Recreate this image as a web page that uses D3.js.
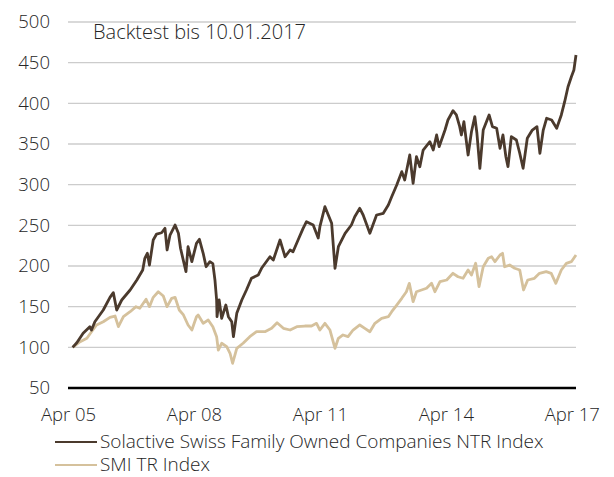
<!DOCTYPE html>
<html>
<head>
<meta charset="utf-8">
<script src="https://cdnjs.cloudflare.com/ajax/libs/d3/7.8.5/d3.min.js"></script>
<style>
    body { margin: 0; background: #fff; }
    #chart { width: 614px; height: 477px; }
    text { font-family: "Open Sans", sans-serif; font-weight: 300; fill: #262626; }
</style>
</head>
<body>
<div id="chart"></div>
<script>
// decimal years, with index values
let solTimes = [2005.36, 2005.46, 2005.61, 2005.77, 2005.81, 2005.89, 2006.09, 2006.25, 2006.33, 2006.41,
    2006.53, 2006.73, 2006.89, 2007.03, 2007.08, 2007.14, 2007.19, 2007.28, 2007.36, 2007.48,
    2007.56, 2007.61, 2007.68, 2007.80, 2007.88, 2007.93, 2008.06, 2008.11, 2008.20, 2008.31,
    2008.38, 2008.47, 2008.54, 2008.63, 2008.70, 2008.75, 2008.79, 2008.80, 2008.85, 2008.91,
    2009.01, 2009.07, 2009.15, 2009.19, 2009.27, 2009.39, 2009.50, 2009.62, 2009.78, 2009.86,
    2010.06, 2010.14, 2010.30, 2010.42, 2010.54, 2010.61, 2010.73, 2010.85, 2010.93, 2011.09,
    2011.21, 2011.25, 2011.37, 2011.53, 2011.61, 2011.69, 2011.85, 2012.00, 2012.08, 2012.20,
    2012.28, 2012.44, 2012.60, 2012.76, 2012.88, 2012.96, 2013.08, 2013.20, 2013.27, 2013.39,
    2013.47, 2013.55, 2013.63, 2013.71, 2013.87, 2013.95, 2014.03, 2014.09, 2014.23, 2014.30,
    2014.42, 2014.50, 2014.58, 2014.62, 2014.68, 2014.78, 2014.86, 2014.94, 2014.99, 2015.06,
    2015.14, 2015.28, 2015.36, 2015.46, 2015.54, 2015.61, 2015.68, 2015.73, 2015.81, 2015.93,
    2016.01, 2016.09, 2016.19, 2016.31, 2016.42, 2016.49, 2016.57, 2016.65, 2016.77, 2016.89,
    2017.00, 2017.08, 2017.16, 2017.24, 2017.30, 2017.35];
let solValues = [100, 105.7, 117.3, 125.4, 121.3, 131.5, 145.9, 161.5, 167.2, 145.9,
    158.2, 170.5, 182.8, 195.1, 209.5, 215.6, 201.2, 232, 239.3, 240.9,
    246.3, 219.7, 238.1, 250.4, 240.2, 221.8, 193, 223.7, 205.3, 227.9,
    232.8, 215.6, 199.1, 205.3, 203, 182.8, 158.2, 137.7, 158.2, 135.7,
    152, 137.7, 131.5, 113.1, 141.8, 158.2, 170.5, 184.9, 188.9, 197.2,
    211.4, 207.4, 232, 211.4, 219.7, 217.6, 232, 246.3, 254.5, 250.4,
    234.4, 248.3, 272.9, 252.5, 197.2, 223.7, 240.2, 250.4, 260.6, 270.9,
    262.7, 240.2, 262.7, 264.8, 275, 285.2, 299.6, 316, 305.7, 336.5,
    301.7, 334.4, 322.1, 342.6, 352.8, 342.6, 361.1, 346.7, 367.2, 379.5,
    390.9, 385.7, 371.3, 361.1, 377.4, 336.5, 365.1, 383.6, 363.2, 320.1,
    367.2, 385.7, 371.3, 369.3, 344.7, 361.1, 334.4, 322.1, 359, 354.9,
    338.6, 320.1, 357, 367.2, 371.3, 338.6, 367.2, 381.6, 379.5, 369.3,
    385.7, 402, 420.4, 432.7, 441, 459.4];

let smiTimes = [2005.36, 2005.54, 2005.70, 2005.81, 2005.93, 2006.09, 2006.25, 2006.37, 2006.45, 2006.57,
    2006.73, 2006.87, 2006.96, 2007.11, 2007.19, 2007.28, 2007.40, 2007.52, 2007.61, 2007.72,
    2007.80, 2007.90, 2008.00, 2008.11, 2008.20, 2008.31, 2008.35, 2008.47, 2008.59, 2008.70,
    2008.79, 2008.83, 2008.91, 2009.03, 2009.11, 2009.17, 2009.27, 2009.42, 2009.58, 2009.74,
    2009.94, 2010.10, 2010.23, 2010.38, 2010.54, 2010.70, 2010.89, 2011.05, 2011.17, 2011.25,
    2011.37, 2011.49, 2011.61, 2011.69, 2011.80, 2011.92, 2012.04, 2012.20, 2012.32, 2012.44,
    2012.56, 2012.72, 2012.88, 2012.96, 2013.08, 2013.20, 2013.31, 2013.38, 2013.47, 2013.55,
    2013.67, 2013.79, 2013.91, 2013.99, 2014.11, 2014.27, 2014.42, 2014.54, 2014.66, 2014.78,
    2014.86, 2014.96, 2015.04, 2015.14, 2015.26, 2015.34, 2015.42, 2015.54, 2015.60, 2015.65,
    2015.77, 2015.89, 2016.01, 2016.10, 2016.20, 2016.36, 2016.48, 2016.64, 2016.76, 2016.87,
    2017.00, 2017.12, 2017.24, 2017.35];
let smiValues = [100, 106.9, 111.1, 119.2, 127.5, 131.5, 136.9, 138.5, 125.4, 137.7,
    143.8, 150, 148, 159.1, 150, 161.5, 168.4, 163.1, 150, 160.3,
    161.5, 145.9, 139.8, 127.5, 121.3, 137.7, 139.8, 129.5, 133.6, 125.4,
    113.1, 96.7, 105, 100.8, 92.7, 80.4, 98.8, 105, 113.1, 119.2,
    119.2, 123.4, 130.3, 123.4, 121.3, 125.4, 126.2, 126.2, 129.5, 121.3,
    129.5, 121.3, 98.8, 111.1, 115.2, 113.1, 121.3, 127.5, 123.4, 119.2,
    129.5, 135.7, 137.7, 143.8, 152, 160.3, 168.4, 178.7, 156.1, 168.4,
    170.5, 172.6, 178.7, 168.4, 180.7, 182.8, 191, 186.8, 184.9, 195.1,
    188.9, 203.3, 174.6, 199.1, 209.5, 211.4, 205.3, 213.5, 215.6, 199.1,
    201.2, 197.2, 195.1, 170.5, 182.8, 184.9, 191, 193, 191, 178.7,
    195.1, 203.3, 205.3, 213.5];

let yTicks = [50, 100, 150, 200, 250, 300, 350, 400, 450, 500];
let xTicks = [2005.25, 2008.25, 2011.25, 2014.25, 2017.25];
let xTickLabels = ["Apr 05", "Apr 08", "Apr 11", "Apr 14", "Apr 17"];
let seriesNames = ["Solactive Swiss Family Owned Companies NTR Index", "SMI TR Index"];
let seriesColors = ["#4b3a2d", "#d5c19c"];
let note = "Backtest bis 10.01.2017";

let margin = {top: 22, right: 38, bottom: 89, left: 68};
let width = 614 - margin.left - margin.right,
    height = 477 - margin.top - margin.bottom;

let svg = d3.select("#chart").append("svg")
    .attr("width", 614)
    .attr("height", 477)
    .append("g")
    .attr("transform", "translate(" + margin.left + "," + margin.top + ")");

let x = d3.scaleLinear().domain([2005.25, 2017.35]).range([0, width]);
let y = d3.scaleLinear().domain([50, 500]).range([height, 0]);

// gridlines
svg.append("g")
    .selectAll("line")
    .data(yTicks.filter(d => d > 50))
    .enter().append("line")
    .attr("x1", 0)
    .attr("x2", width)
    .attr("y1", d => y(d))
    .attr("y2", d => y(d))
    .style("stroke", "#cccccc")
    .style("stroke-width", 1.3);

// y axis labels
let yAxis = svg.append("g")
    .call(d3.axisLeft(y).tickValues(yTicks).tickSize(0).tickPadding(18));
yAxis.select(".domain").remove();
yAxis.selectAll("text").style("font-size", "18.5px");

// x axis
let xAxis = svg.append("g")
    .attr("transform", `translate(0,${height})`)
    .call(d3.axisBottom(x).tickValues(xTicks).tickSize(0).tickPadding(20)
        .tickFormat((d, i) => xTickLabels[i]));
xAxis.select(".domain").remove();
xAxis.selectAll("text").style("font-size", "18.5px");

svg.append("line")
    .attr("x1", 0)
    .attr("x2", width)
    .attr("y1", y(50))
    .attr("y2", y(50))
    .style("stroke", "#000")
    .style("stroke-width", 2.5);

let line = d3.line()
    .x(d => x(d[0]))
    .y(d => y(d[1]));

let smiData = smiTimes.map((t, i) => [t, smiValues[i]]);
let solData = solTimes.map((t, i) => [t, solValues[i]]);

svg.append("path")
    .datum(smiData)
    .attr("d", line)
    .style("fill", "none")
    .style("stroke", seriesColors[1])
    .style("stroke-width", 2.8)
    .style("stroke-linejoin", "round");

svg.append("path")
    .datum(solData)
    .attr("d", line)
    .style("fill", "none")
    .style("stroke", seriesColors[0])
    .style("stroke-width", 2.8)
    .style("stroke-linejoin", "round");

svg.append("text")
    .attr("x", 93 - margin.left)
    .attr("y", 39 - margin.top)
    .style("font-size", "20px")
    .text(note);

// legend
let legend = svg.append("g")
    .attr("transform", `translate(${55 - margin.left},${442 - margin.top})`);

seriesNames.forEach((name, i) => {
    legend.append("line")
        .attr("x1", 0)
        .attr("x2", 42)
        .attr("y1", i * 23)
        .attr("y2", i * 23)
        .style("stroke", seriesColors[i])
        .style("stroke-width", 2);
    legend.append("text")
        .attr("x", 45)
        .attr("y", i * 23)
        .attr("dy", "0.34em")
        .style("font-size", "19px")
        .text(name);
});
</script>
</body>
</html>
